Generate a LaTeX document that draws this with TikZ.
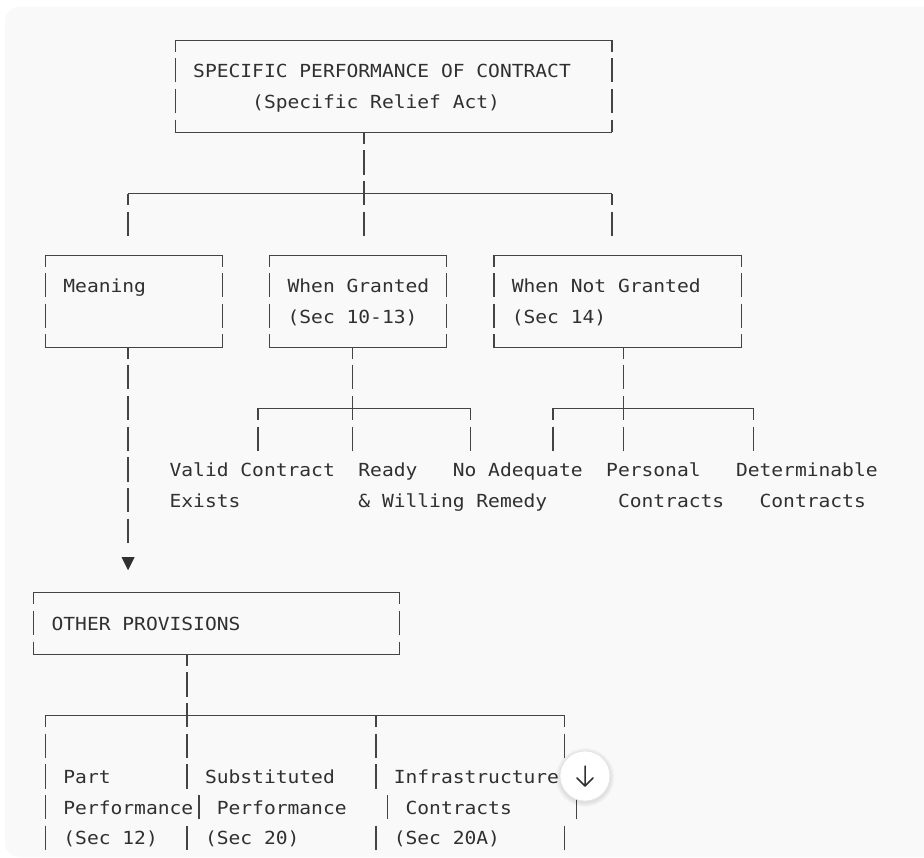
\documentclass[tikz,border=0pt]{standalone}
\usepackage{fontspec}
\newfontfamily\codefont[FakeStretch=1.089]{DejaVu Sans Mono}
\usetikzlibrary{calc}
\definecolor{blockbg}{HTML}{F9F9F9}
\definecolor{ink}{HTML}{303030}
\definecolor{rule}{HTML}{444444}
\definecolor{btnedge}{HTML}{E2E2E2}

% frame of a box whose corners sit on character cells
\newcommand\drawascframe[1]{%
  \draw[hline] (#1.north west) -- (#1.north east) (#1.south west) -- (#1.south east);
  \draw[vline] (#1.north west) -- (#1.south west);
  \draw[vline] (#1.north east) -- (#1.south east);}
% \ascbox{name}{left col}{top row}{right col}{bottom row}
\newcommand\ascbox[5]{%
  \node[inner sep=0pt, outer sep=0pt,
        minimum width={(#4-#2)*11.8pt}, minimum height={(#5-#3)*30.7pt}]
        (#1) at ({(#2+#4)/2},{(#3+#5)/2}) {};
  \drawascframe{#1}}

\tikzset{
  txt/.style={font=\codefont\fontsize{18pt}{30.7pt}\selectfont, text=ink,
              inner sep=0pt, anchor=base west},
  hline/.style={draw=rule, line width=1.1pt, line cap=rect},
  vline/.style={draw=rule, line width=1.4pt,
                dash pattern=on 24.3pt off 6.4pt, dash phase=12.8pt},
  vglyph/.style={draw=rule, line width=1.4pt},
}

\begin{document}
\begin{tikzpicture}[x=1pt,y=-1pt]
% canvas and code block
\useasboundingbox (0,0) rectangle (924,858);
\fill[white] (0,0) rectangle (924,858);
\fill[blockbg, rounded corners=14pt] (5,7) rectangle (980,857);

% character grid: x = column, y = row (cell centres)
\begin{scope}[shift={(21.9pt,-40.3pt)}, x=11.8pt, y=-30.7pt]

  % ---- root box ----
  \ascbox{root}{13}{0}{50}{3}
  \node[txt] (roottitle) at (14.5,1.21) {SPECIFIC PERFORMANCE OF CONTRACT};
  \node[txt] (rootsub)   at (19.5,2.21) {(Specific Relief Act)};

  % ---- second level boxes ----
  \ascbox{meaning}{2}{7}{17}{10}
  \ascbox{granted}{21}{7}{36}{10}
  \ascbox{notgr}{40}{7}{61}{10}
  \node[txt] (meaningtxt) at (3.5,8.21)  {Meaning};
  \node[txt] (grantedtxt) at (22.5,8.21) {When Granted};
  \node[txt] (grantedsec) at (22.5,9.21) {(Sec 10-13)};
  \node[txt] (notgrtxt)   at (41.5,8.21) {When Not Granted};
  \node[txt] (notgrsec)   at (41.5,9.21) {(Sec 14)};

  % root -> second level
  \coordinate (j0)  at (29,5);
  \coordinate (b0l) at (9,5);
  \coordinate (b0r) at (50,5);
  \draw[vline, shorten >=19.2pt] (j0 |- root.south) -- (j0 |- granted.north);
  \draw[hline] (b0l) -- (b0r);
  \draw[vline, shorten >=19.2pt] (b0l) -- (b0l |- meaning.north);
  \draw[vline, shorten >=19.2pt] (b0r) -- (b0r |- notgr.north);

  % ---- conditions when granted ----
  \coordinate (g0) at (28,12);
  \coordinate (gl) at (20,12);
  \coordinate (gr) at (38,12);
  \draw[vline] (granted.south -| g0) -- ++(0,3.375);
  \draw[hline] (gl) -- (gr);
  \draw[vline] (gl) -- ++(0,1.375);
  \draw[vline] (gr) -- ++(0,1.375);

  % ---- cases when not granted ----
  \coordinate (n0) at (51,12);
  \coordinate (nl) at (45,12);
  \coordinate (nr) at (62,12);
  \draw[vline] (notgr.south -| n0) -- ++(0,3.375);
  \draw[hline] (nl) -- (nr);
  \draw[vline] (nl) -- ++(0,1.375);
  \draw[vline] (nr) -- ++(0,1.375);

  \node[txt] (valid)    at (12.5,14.21) {Valid Contract};
  \node[txt] (exists)   at (12.5,15.21) {Exists};
  \node[txt] (ready)    at (28.5,14.21) {Ready};
  \node[txt] (willing)  at (28.5,15.21) {\&{} Willing};
  \node[txt] (noadeq)   at (36.5,14.21) {No Adequate};
  \node[txt] (remedy)   at (38.5,15.21) {Remedy};
  \node[txt] (personal) at (49.5,14.21) {Personal};
  \node[txt] (contra)   at (50.5,15.21) {Contracts};
  \node[txt] (determ)   at (60.5,14.21) {Determinable};
  \node[txt] (contrb)   at (62.5,15.21) {Contracts};

  % ---- meaning -> other provisions ----
  \node[inner sep=0pt, minimum size=12.6pt] (tip) at (9,17.05) {};
  \fill[ink] (tip.north west) -- (tip.north east) -- (tip.south) -- cycle;
  \draw[vline, shorten >=14.7pt] (meaning.south -| tip) -- (tip.north);

  \ascbox{other}{1}{18}{32}{20}
  \node[txt] (othertxt) at (2.5,19.21) {OTHER PROVISIONS};

  % ---- other provisions columns ----
  \coordinate (o0) at (14,22);
  \coordinate (ol) at (2,22);
  \coordinate (om) at (30,22);
  \coordinate (or) at (46,22);
  \draw[vline] (other.south -| o0) -- ++(0,4.375);
  \draw[hline] (ol) -- (or);
  \draw[vline] (ol) -- ++(0,4.375);
  \draw[vline] (om) -- ++(0,2.375);
  \draw[vline] (or) -- ++(0,2.375);
  \foreach \c/\r in {15/25,14/26,31/25,30/26,47/25,46/26}
    \draw[vglyph] (\c,\r-0.417) -- (\c,\r+0.375);

  \node[txt] (part)   at (3.5,24.21)  {Part};
  \node[txt] (perfa)  at (3.5,25.21)  {Performance};
  \node[txt] (seca)   at (3.5,26.21)  {(Sec 12)};
  \node[txt] (subst)  at (15.5,24.21) {Substituted};
  \node[txt] (perfb)  at (16.5,25.21) {Performance};
  \node[txt] (secb)   at (15.5,26.21) {(Sec 20)};
  \node[txt] (infra)  at (31.5,24.21) {Infrastructure};
  \node[txt] (contrc) at (32.5,25.21) {Contracts};
  \node[txt] (secc)   at (31.5,26.21) {(Sec 20A)};
\end{scope}

% scroll button
\foreach \i in {1,...,5}
  \fill[black, opacity=0.018] (585,777.5) circle ({25+\i*0.9});
\node[circle, fill=white, draw=btnedge, line width=0.6pt, minimum size=50pt,
      inner sep=0pt] (btn) at (585,776) {};
\draw[ink, line width=1.5pt, line cap=round, line join=round]
  ($(btn.center)+(0,-10)$) -- ($(btn.center)+(0,10)$)
  ($(btn.center)+(-8,2)$) -- ($(btn.center)+(0,10)$) -- ($(btn.center)+(8,2)$);
\end{tikzpicture}
\end{document}
